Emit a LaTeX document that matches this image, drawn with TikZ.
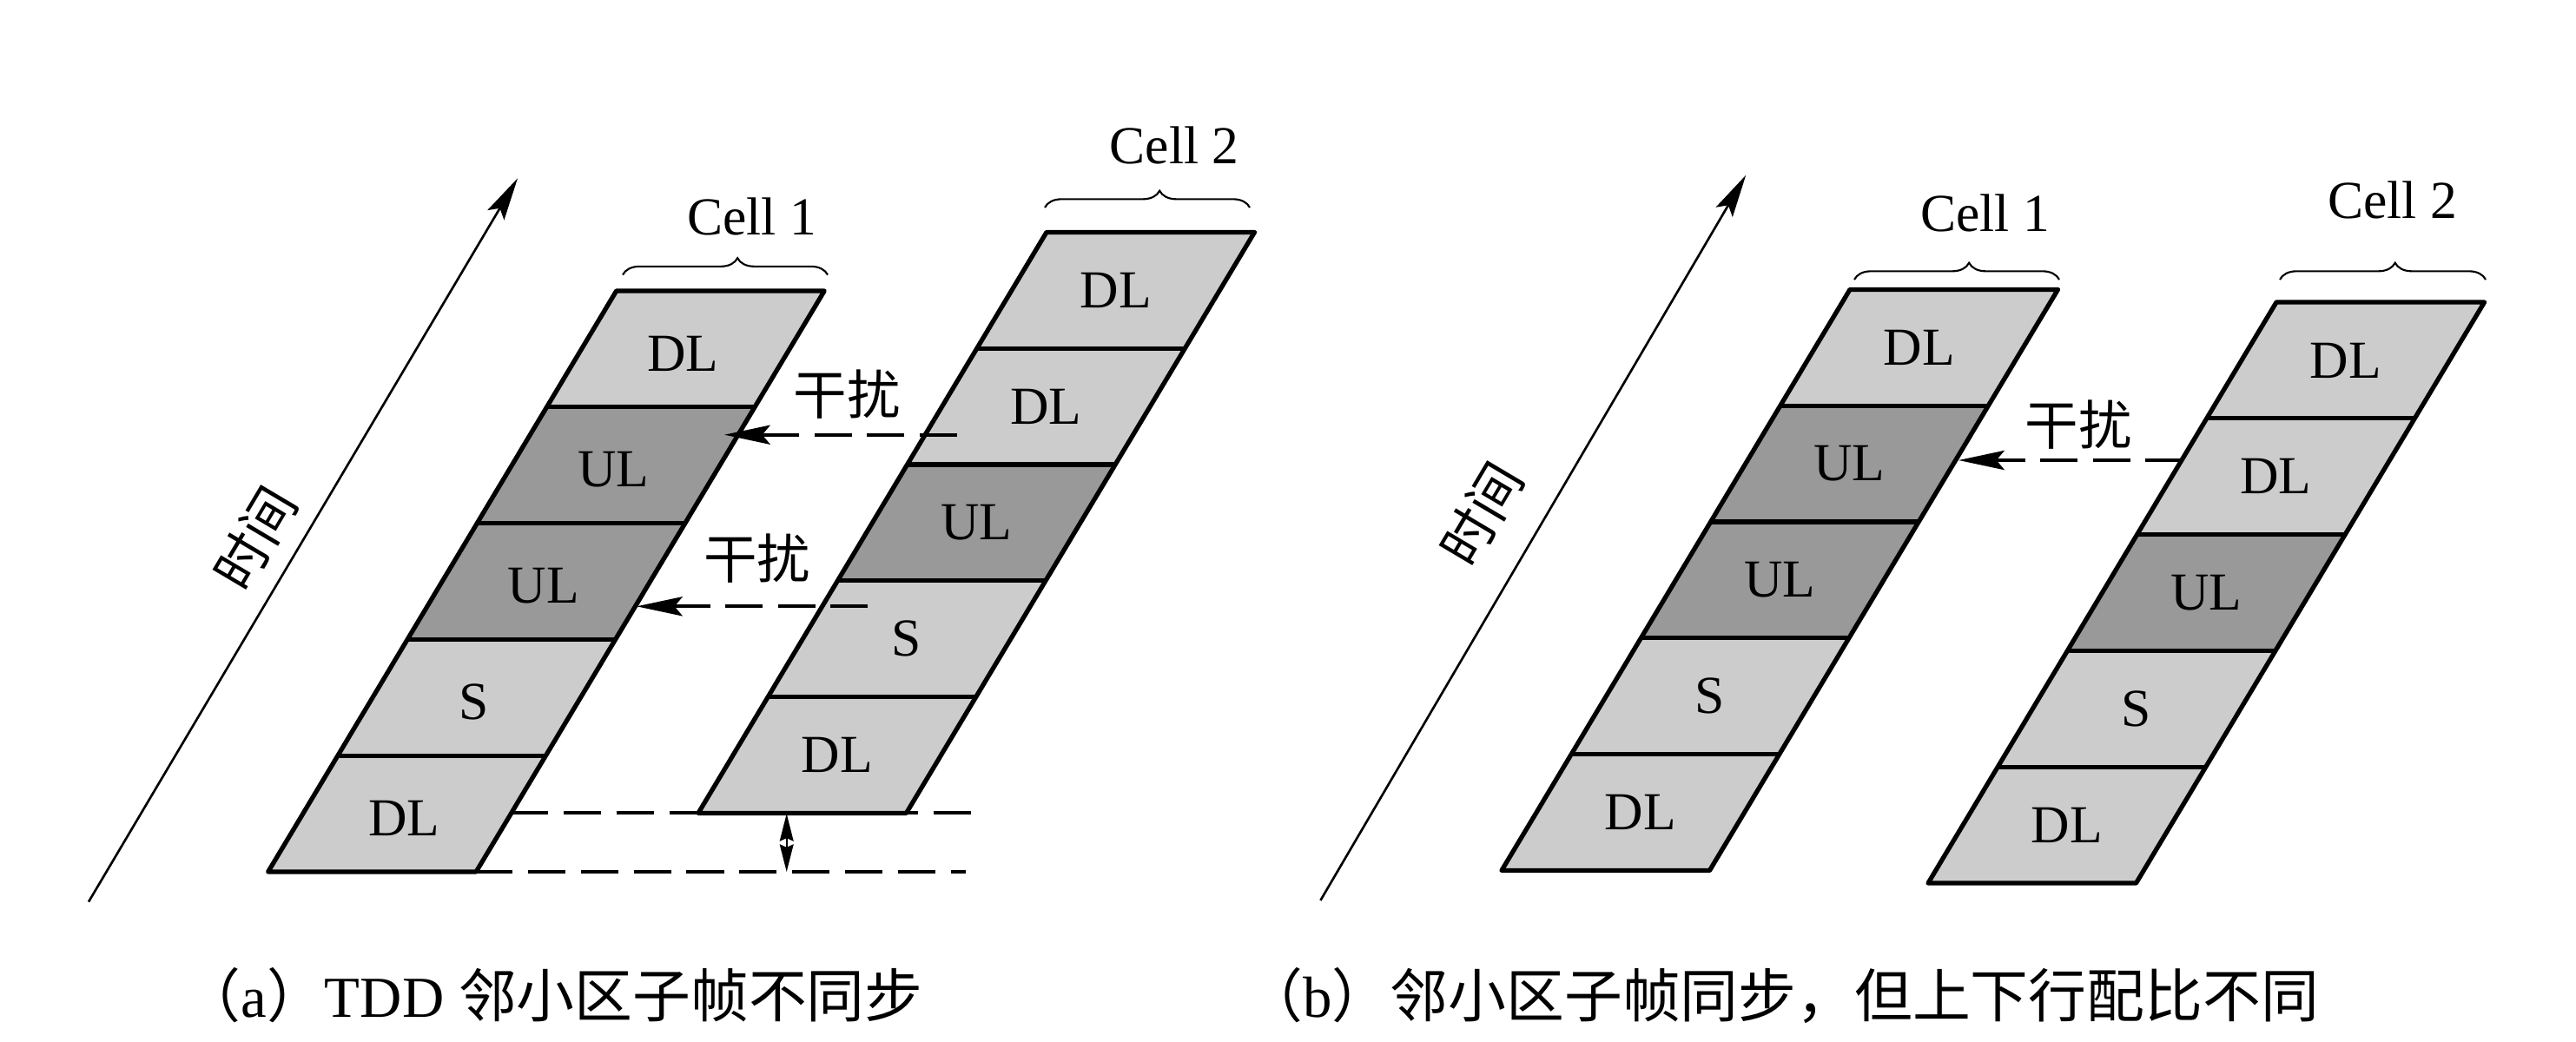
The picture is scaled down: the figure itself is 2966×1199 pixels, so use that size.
\documentclass[tikz,border=0pt]{standalone}
\usepackage{fontspec}
\setmainfont{Liberation Serif}
\newfontfamily\cjk{Noto Sans CJK SC}
\usetikzlibrary{arrows.meta,decorations.pathreplacing,calc}
\definecolor{lightcell}{HTML}{CCCCCC}
\definecolor{darkcell}{HTML}{999999}
\tikzset{
  cellline/.style={line width=1.5pt, line join=round},
  lab/.style={font=\fontsize{17.5}{20}\selectfont, inner sep=0pt},
  cjklab/.style={font=\fontsize{17.5}{20}\selectfont\cjk, inner sep=0pt},
  brc/.style={decorate, decoration={brace, amplitude=5.5pt, aspect=0.56}, line width=0.6pt},
  timearrow/.style={line width=0.75pt, -{Stealth[length=14pt,width=6.3pt,inset=2.6pt]}},
  interf/.style={line width=1.1pt, dash pattern=on 12.2pt off 5pt, -{Stealth[length=15pt,width=6.3pt,inset=2.6pt]}},
  guide/.style={line width=1.1pt, dash pattern=on 12.3pt off 5pt},
  gaparrow/.style={line width=0.6pt, {Stealth[length=9pt,width=4.5pt,inset=1pt]}-{Stealth[length=9pt,width=4.5pt,inset=1pt]}},
  captxt/.style={font=\fontsize{19}{22}\selectfont, inner sep=0pt, anchor=west},
}
\newcommand{\tddcell}[5]{%
  \begin{scope}[shift={(#2,#3)}, xslant=0.5994]
    \foreach \lab/\col [count=\i from 0] in {#4} {
      \fill[\col] (0,{-\i*133.8}) -- (239.5,{-\i*133.8}) -- (239.5,{-(\i+1)*133.8}) -- (0,{-(\i+1)*133.8}) -- cycle;
      \node[lab] (#1-\i) at (119.75,{-(\i+0.5)*133.8+#5}) {\lab};
    }
    \foreach \i in {1,...,4} \draw[cellline] (0,{-\i*133.8}) -- (239.5,{-\i*133.8});
    \draw[cellline] (0,0) -- (239.5,0) -- (239.5,-669) -- (0,-669) -- cycle;
    \coordinate (#1-bl) at (0,0);
    \coordinate (#1-br) at (239.5,0);
  \end{scope}}
\begin{document}
\begin{tikzpicture}[x=0.01cm,y=-0.01cm]
\useasboundingbox (0,0) rectangle (2966,1199);

% ---------------- panel (a) ----------------
\coordinate (ta0) at (102,1038.6);
\coordinate (ta1) at (596,205.3);
\draw[timearrow] (ta0) -- (ta1);
\node[cjklab, rotate=59.3] (timea) at (294,620) {时间};

% guide lines
\coordinate (ga1) at (588,936.4);
\coordinate (ga2) at (1123,936.4);
\coordinate (gb1) at (547,1004);
\coordinate (gb2) at (1112,1004);
\draw[guide] (ga1) -- (ga2);
\draw[guide] (gb1) -- (gb2);

\tddcell{A1}{308.7}{1004}{DL/lightcell,S/lightcell,UL/darkcell,UL/darkcell,DL/lightcell}{5}
\tddcell{A2}{804}{936.4}{DL/lightcell,S/lightcell,UL/darkcell,DL/lightcell,DL/lightcell}{0}

\coordinate (da1) at (905.7,937);
\coordinate (da2) at (905.7,1004);
\draw[gaparrow] (da1) -- (da2);

\coordinate (bA1l) at (717,316.5);
\coordinate (bA1r) at (953,316.5);
\draw[brc] (bA1l) -- (bA1r);
\node[lab] (cA1) at (865.5,249) {Cell 1};
\coordinate (bA2l) at (1203,239);
\coordinate (bA2r) at (1439,239);
\draw[brc] (bA2l) -- (bA2r);
\node[lab] (cA2) at (1352,167) {Cell 2};

\coordinate (ia1s) at (1101.7,500.7);
\coordinate (ia1t) at (834,500.7);
\draw[interf] (ia1s) -- (ia1t);
\node[cjklab] (ka1) at (975,454) {干扰};
\coordinate (ia2s) at (999,698.3);
\coordinate (ia2t) at (733,698.3);
\draw[interf] (ia2s) -- (ia2t);
\node[cjklab] (ka2) at (871.7,643.3) {干扰};

\node[captxt] (capa) at (210,1146) {{\cjk （}a{\cjk ）}TDD {\cjk 邻小区子帧不同步}};

% ---------------- panel (b) ----------------
\coordinate (tb0) at (1520.4,1036.9);
\coordinate (tb1) at (2010.2,201.7);
\draw[timearrow] (tb0) -- (tb1);
\node[cjklab, rotate=59.3] (timeb) at (1706,592) {时间};

\tddcell{B1}{1729}{1002.4}{DL/lightcell,S/lightcell,UL/darkcell,UL/darkcell,DL/lightcell}{0}
\tddcell{B2}{2220}{1017}{DL/lightcell,S/lightcell,UL/darkcell,DL/lightcell,DL/lightcell}{0}

\coordinate (bB1l) at (2135,322);
\coordinate (bB1r) at (2371,322);
\draw[brc] (bB1l) -- (bB1r);
\node[lab] (cB1) at (2285.5,245) {Cell 1};
\coordinate (bB2l) at (2625,322);
\coordinate (bB2r) at (2862,322);
\draw[brc] (bB2l) -- (bB2r);
\node[lab] (cB2) at (2754.5,230.4) {Cell 2};

\coordinate (ibs) at (2513,530);
\coordinate (ibt) at (2255,530);
\draw[interf] (ibs) -- (ibt);
\node[cjklab] (kb) at (2393,488.7) {干扰};

\node[captxt] (capb) at (1433,1146) {{\cjk （}b{\cjk ）邻小区子帧同步，但上下行配比不同}};
\end{tikzpicture}
\end{document}
